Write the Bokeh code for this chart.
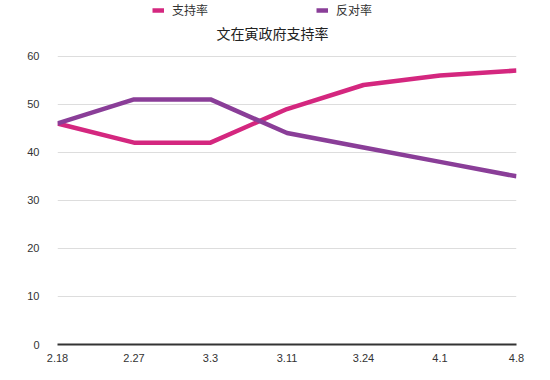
from bokeh.plotting import figure
from bokeh.models import Range1d, FixedTicker, Legend, LegendItem, Label
from bokeh.embed import file_html
from bokeh.resources import INLINE

dates = ["2.18", "2.27", "3.3", "3.11", "3.24", "4.1", "4.8"]
support = [46, 42, 42, 49, 54, 56, 57]
oppose = [46, 51, 51, 44, 41, 38, 35]
title_text = "文在寅政府支持率"
support_name = "支持率"
oppose_name = "反对率"
y_ticks = [0, 10, 20, 30, 40, 50, 60]

PINK = "#d4277f"
PURPLE = "#8a3e98"
CJK = "Noto Sans CJK SC"
LATIN = "Liberation Sans"

W, H = 534, 364
LEFT, RIGHT, TOP_GAP, BOTTOM = 57, 18, 56, 18
frame_h = H - BOTTOM
y_top = 60 * frame_h / (frame_h - TOP_GAP)  # leaves room for title/legend inside frame

xs = list(range(len(dates)))

p = figure(width=W, height=H, output_backend="svg", toolbar_location=None,
           x_range=Range1d(0, len(dates) - 1), y_range=Range1d(0, y_top),
           min_border_left=LEFT, min_border_right=RIGHT, min_border_top=0,
           min_border_bottom=BOTTOM)
p.outline_line_color = None
p.background_fill_color = "white"

r1 = p.line(xs, support, line_color=PINK, line_width=4.5)
r2 = p.line(xs, oppose, line_color=PURPLE, line_width=4.5)

title = Label(x=215, y=frame_h - 34, x_units="screen", y_units="screen",
              text=title_text, text_align="center", text_baseline="middle",
              text_font=CJK, text_font_size="14px", text_color="#222222")
p.add_layout(title)

legend = Legend(items=[LegendItem(label=support_name, renderers=[r1]),
                       LegendItem(label=oppose_name, renderers=[r2])],
                orientation="horizontal", location=(95, frame_h - 20),
                glyph_width=12, glyph_height=14, label_height=14,
                label_standoff=8, label_width=134, spacing=10,
                padding=0, margin=0, border_line_color=None,
                background_fill_alpha=0,
                label_text_font=CJK, label_text_font_size="12px",
                label_text_color="#333333")
p.add_layout(legend, "center")

p.xaxis.ticker = FixedTicker(ticks=xs)
p.xaxis.major_label_overrides = {i: d for i, d in enumerate(dates)}
p.xaxis.axis_line_color = "#333333"
p.xaxis.axis_line_width = 2
p.xaxis.major_tick_line_color = None
p.xaxis.minor_tick_line_color = None
p.xaxis.major_label_standoff = 3
p.xaxis.major_label_text_font = LATIN
p.xaxis.major_label_text_font_size = "11px"
p.xaxis.major_label_text_color = "#333333"

p.yaxis.ticker = FixedTicker(ticks=y_ticks)
p.yaxis.axis_line_color = None
p.yaxis.major_tick_line_color = None
p.yaxis.minor_tick_line_color = None
p.yaxis.major_label_standoff = 12
p.yaxis.major_label_text_font = LATIN
p.yaxis.major_label_text_font_size = "11px"
p.yaxis.major_label_text_color = "#333333"

p.xgrid.grid_line_color = None
p.ygrid.ticker = FixedTicker(ticks=y_ticks)
p.ygrid.grid_line_color = "#dddddd"
p.ygrid.grid_line_width = 1

open("out.html", "w").write(file_html(p, INLINE))
